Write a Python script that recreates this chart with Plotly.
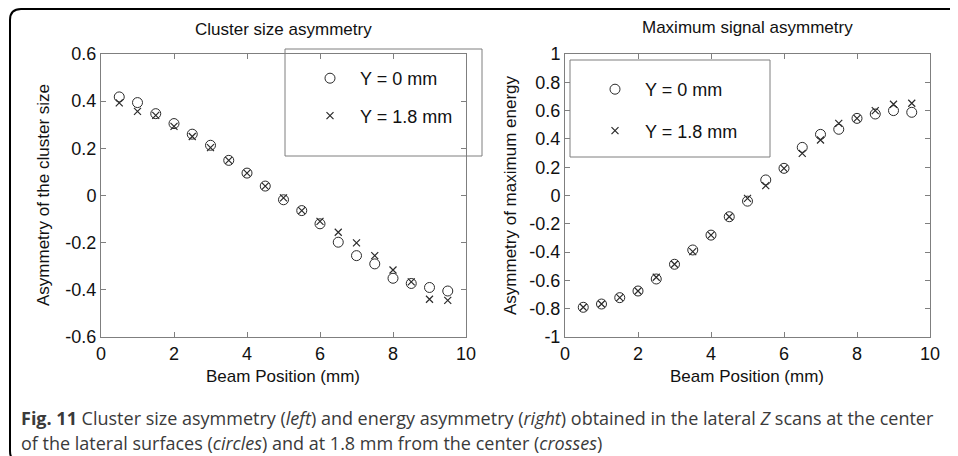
import plotly.graph_objects as go

# the page body keeps its 8px margin, so the figure is drawn 8px in from the window corner
OFF = 8
W, H = 958 - OFF, 456 - OFF

beam_pos = [0.5, 1.0, 1.5, 2.0, 2.5, 3.0, 3.5, 4.0, 4.5, 5.0,
            5.5, 6.0, 6.5, 7.0, 7.5, 8.0, 8.5, 9.0, 9.5]

# cluster size asymmetry (left panel)
size_y0 = [0.418, 0.394, 0.347, 0.305, 0.260, 0.213, 0.149, 0.095, 0.040, -0.018,
           -0.064, -0.120, -0.198, -0.255, -0.290, -0.351, -0.373, -0.390, -0.405]
size_y18 = [0.393, 0.357, 0.340, 0.293, 0.250, 0.203, 0.149, 0.095, 0.040, -0.010,
            -0.064, -0.110, -0.156, -0.201, -0.255, -0.316, -0.366, -0.440, -0.445]

# maximum energy asymmetry (right panel)
energy_y0 = [-0.790, -0.767, -0.722, -0.675, -0.590, -0.486, -0.385, -0.280, -0.150, -0.040,
             0.110, 0.192, 0.340, 0.432, 0.468, 0.545, 0.576, 0.600, 0.588]
energy_y18 = [-0.790, -0.767, -0.722, -0.675, -0.578, -0.486, -0.397, -0.280, -0.150, -0.020,
              0.070, 0.192, 0.298, 0.392, 0.510, 0.545, 0.600, 0.645, 0.652]

x_ticks = [0, 2, 4, 6, 8, 10]
left_yticks = [-0.6, -0.4, -0.2, 0, 0.2, 0.4, 0.6]
left_ytext = ["-0.6", "-0.4", "-0.2", "0", "0.2", "0.4", "0.6"]
right_yticks = [-1, -0.8, -0.6, -0.4, -0.2, 0, 0.2, 0.4, 0.6, 0.8, 1]
right_ytext = ["-1", "-0.8", "-0.6", "-0.4", "-0.2", "0", "0.2", "0.4", "0.6", "0.8", "1"]

AXIS_GREY = "#7f7f7f"
MARK_COLOR = "#2a2a2a"
TEXT_COLOR = "#111111"
FONT = "Liberation Sans, Arial, sans-serif"
CAPTION_FONT = "Open Sans, Noto Sans, sans-serif"


def px(x):
    # window pixel -> paper fraction
    return (x - OFF) / W


def py(y):
    return 1 - (y - OFF) / H


circle = dict(symbol="circle-open", size=10, color=MARK_COLOR, line=dict(width=1, color=MARK_COLOR))
cross = dict(symbol="x-thin-open", size=7, color=MARK_COLOR, line=dict(width=1.2, color=MARK_COLOR))

fig = go.Figure()
fig.add_trace(go.Scatter(x=beam_pos, y=size_y0, mode="markers", marker=circle, name="Y = 0 mm",
                         xaxis="x", yaxis="y", legend="legend", legendgroup="a"))
fig.add_trace(go.Scatter(x=beam_pos, y=size_y18, mode="markers", marker=cross, name="Y = 1.8 mm",
                         xaxis="x", yaxis="y", legend="legend", legendgroup="b"))
fig.add_trace(go.Scatter(x=beam_pos, y=energy_y0, mode="markers", marker=circle, name="Y = 0 mm",
                         xaxis="x2", yaxis="y2", legend="legend2", legendgroup="c"))
fig.add_trace(go.Scatter(x=beam_pos, y=energy_y18, mode="markers", marker=cross, name="Y = 1.8 mm",
                         xaxis="x2", yaxis="y2", legend="legend2", legendgroup="d"))

axis_common = dict(
    showline=True, linecolor=AXIS_GREY, linewidth=1, mirror="ticks",
    ticks="inside", ticklen=5, tickcolor=AXIS_GREY, showgrid=False, zeroline=False,
    tickfont=dict(family=FONT, size=18, color=TEXT_COLOR), automargin=False,
)

y_dom = [py(337), py(54)]
fig.update_layout(
    width=W, height=H,
    template="none",
    paper_bgcolor="white", plot_bgcolor="white",
    margin=dict(l=0, r=0, t=0, b=0),
    font=dict(family=FONT, color=TEXT_COLOR),
    xaxis=dict(domain=[px(101), px(466)], range=[0, 10], tickvals=x_ticks, anchor="y", **axis_common),
    yaxis=dict(domain=y_dom, range=[-0.6, 0.6], tickvals=left_yticks, ticktext=left_ytext,
               anchor="x", **axis_common),
    xaxis2=dict(domain=[px(565), px(930)], range=[0, 10], tickvals=x_ticks, anchor="y2", **axis_common),
    yaxis2=dict(domain=y_dom, range=[-1, 1], tickvals=right_yticks, ticktext=right_ytext,
                anchor="x2", **axis_common),
    legend=dict(x=px(300), y=py(60), xanchor="left", yanchor="top", bgcolor="rgba(0,0,0,0)",
                borderwidth=0, tracegroupgap=11, itemwidth=50,
                font=dict(family=FONT, size=18, color=TEXT_COLOR)),
    legend2=dict(x=px(585), y=py(71), xanchor="left", yanchor="top", bgcolor="rgba(0,0,0,0)",
                 borderwidth=0, tracegroupgap=15, itemwidth=50,
                 font=dict(family=FONT, size=18, color=TEXT_COLOR)),
    showlegend=True,
)

# legend boxes (MATLAB style)
fig.add_shape(type="rect", xref="paper", yref="paper", x0=px(285), x1=px(482), y0=py(156), y1=py(49),
              line=dict(color=AXIS_GREY, width=1), fillcolor="white", layer="below")
fig.add_shape(type="rect", xref="paper", yref="paper", x0=px(570), x1=px(770), y0=py(157), y1=py(60),
              line=dict(color=AXIS_GREY, width=1), fillcolor="white", layer="below")

# rounded figure frame, open on the right and bottom
r = 11
top, left, bottom = 9, 10, 462
frame = (f"M {px(1000)},{py(top)} L {px(left + r)},{py(top)} "
         f"Q {px(left)},{py(top)} {px(left)},{py(top + r)} "
         f"L {px(left)},{py(bottom - r)} Q {px(left)},{py(bottom)} {px(left + r)},{py(bottom)} "
         f"L {px(1000)},{py(bottom)}")
fig.add_shape(type="path", xref="paper", yref="paper", path=frame, line=dict(color="black", width=2))

title_font = dict(family=FONT, size=17, color=TEXT_COLOR)
labels = [
    ("Cluster size asymmetry", 283, 29, 0),
    ("Maximum signal asymmetry", 747, 28, 0),
    ("Beam Position (mm)", 283, 376, 0),
    ("Beam Position (mm)", 747, 376, 0),
    ("Asymmetry of the cluster size", 43, 195, -90),
    ("Asymmetry of maximum energy", 510, 195, -90),
]
for text, lx, ly, angle in labels:
    fig.add_annotation(text=text, x=px(lx), y=py(ly), xref="paper", yref="paper",
                       xanchor="center", yanchor="middle", showarrow=False,
                       textangle=angle, font=title_font)

caption_lines = [
    "<b>Fig. 11</b> Cluster size asymmetry (<i>left</i>) and energy asymmetry (<i>right</i>) "
    "obtained in the lateral <i>Z</i> scans at the center",
    "of the lateral surfaces (<i>circles</i>) and at 1.8 mm from the center (<i>crosses</i>)",
]
for i, line in enumerate(caption_lines):
    fig.add_annotation(text=line, x=px(19), y=py(418 + 25 * i), xref="paper", yref="paper",
                       xanchor="left", yanchor="middle", align="left", showarrow=False,
                       font=dict(family=CAPTION_FONT, size=18, color="#3a3a3a"))

fig.write_html("out.html")
